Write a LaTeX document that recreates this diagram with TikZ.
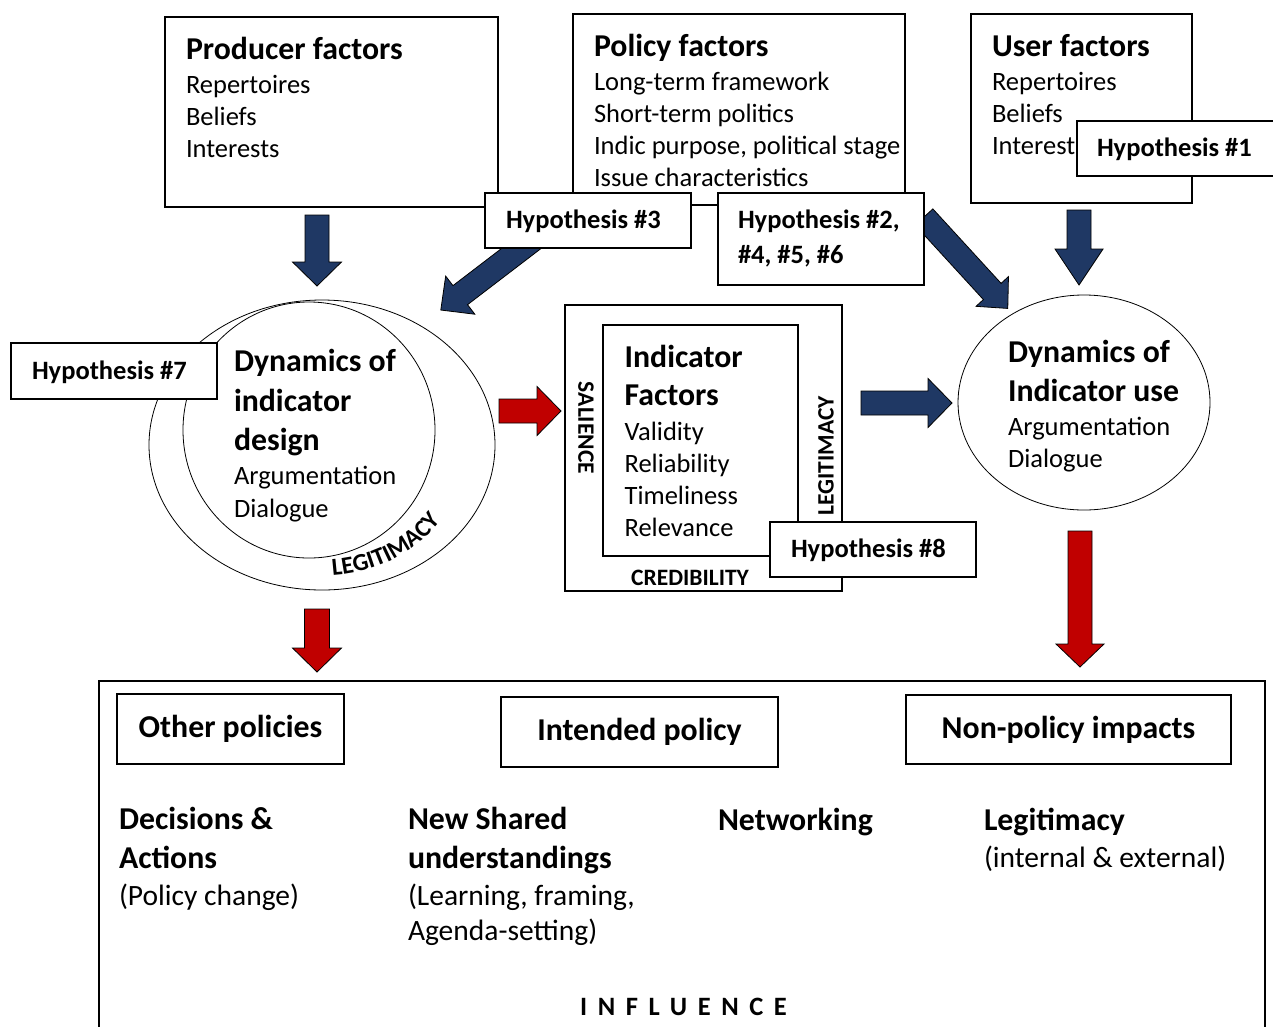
\documentclass[tikz,border=0pt]{standalone}
\usepackage{fontspec}
\setmainfont{Carlito}
\usetikzlibrary{calc,shapes.geometric,decorations.text}
\definecolor{navy}{RGB}{31,56,100}
\definecolor{darkred}{RGB}{192,0,0}
\newcommand{\fontreg}{\fontsize{26.5}{30}\selectfont}
\newcommand{\fontregb}{\fontsize{29.5}{33}\selectfont}
\newcommand{\fonthd}{\fontsize{31.8}{36}\selectfont\bfseries}
\newcommand{\fonthyp}{\fontsize{26.5}{30}\selectfont\bfseries}
\newcommand{\fontsm}{\fontsize{23.5}{25}\selectfont\bfseries}
\newcommand{\fontsmc}{\fontsize{24.5}{26}\selectfont\bfseries}
% #1 style, #2 x, #3 y, #4 angle, #5 length, #6 shaft half width, #7 head half width, #8 head length
\newcommand{\fatarrow}[8]{%
  \begin{scope}[shift={(#2,#3)},rotate=#4]
    \draw[#1] (0,-#6) -- (#5-#8,-#6) -- (#5-#8,-#7) -- (#5,0) -- (#5-#8,#7) -- (#5-#8,#6) -- (0,#6) -- cycle;
  \end{scope}}
\begin{document}
\begin{tikzpicture}[x=1pt,y=-1pt,
  box/.style={draw, line width=1.5pt, fill=white, rectangle, inner sep=0pt, outer sep=0pt},
  hypbox/.style={draw, line width=1.2pt, fill=white, rectangle, inner sep=0pt, outer sep=0pt, minimum width=206pt, minimum height=55pt},
  ln/.style={anchor=base west, inner sep=0pt, outer sep=0pt, font=\fontreg},
  lnb/.style={anchor=base west, inner sep=0pt, outer sep=0pt, font=\fontregb},
  hd/.style={anchor=base west, inner sep=0pt, outer sep=0pt, font=\fonthd},
  hyptext/.style={anchor=west, inner sep=0pt, outer sep=0pt, font=\fonthyp},
  hyplin/.style={anchor=base west, inner sep=0pt, outer sep=0pt, font=\fonthyp},
  smlab/.style={inner sep=0pt, outer sep=0pt, font=\fontsm},
  ell/.style={draw, ellipse, line width=0.8pt, inner sep=0pt, outer sep=0pt},
  bluearrow/.style={fill=navy, draw=black, line width=0.8pt, line join=miter},
  redarrow/.style={fill=darkred, draw=black, line width=0.8pt, line join=miter},
  impbox/.style={draw, line width=2pt, rectangle, inner sep=0pt, outer sep=0pt, font=\fonthd}]
\fill[white] (0,0) rectangle (1273,1026);
\useasboundingbox (0,0) rectangle (1273,1026);

% top factor boxes
\node[box, minimum width=333pt, minimum height=190pt] (producer) at (331.5,112) {};
\node[hd] (prodt) at (186,59) {Producer factors};
\node[ln] (prod1) at (186,93) {Repertoires};
\node[ln] (prod2) at (186,125) {Beliefs};
\node[ln] (prod3) at (186,157) {Interests};

\node[box, minimum width=332pt, minimum height=191pt] (policy) at (739,109.5) {};
\node[hd] (polt) at (594,56) {Policy factors};
\node[ln] (pol1) at (594,90) {Long-term framework};
\node[ln] (pol2) at (594,122) {Short-term politics};
\node[ln] (pol3) at (594,154) {Indic purpose, political stage};
\node[ln] (pol4) at (594,186) {Issue characteristics};

\node[box, minimum width=221pt, minimum height=189pt] (user) at (1081.5,108.5) {};
\node[hd] (usert) at (992,56) {User factors};
\node[ln] (user1) at (992,90) {Repertoires};
\node[ln] (user2) at (992,122) {Beliefs};
\node[ln] (user3) at (992,154) {Interest};

% blue arrows from the top
\fatarrow{bluearrow}{317}{215}{-90}{71}{12}{24.5}{24}
\fatarrow{bluearrow}{1079}{210}{-90}{75}{12}{24}{36}
\fatarrow{bluearrow}{535}{238}{-142.6}{118.6}{12}{24}{24.5}
\fatarrow{bluearrow}{924}{217}{-47.5}{124}{12}{22}{23}

% hypothesis boxes at the top
\node[hypbox] (h3) at (588,220.5) {};
\node[hyptext] (h3t) at ($(h3.west)+(21,1)$) {Hypothesis \#3};
\node[hypbox, minimum height=92pt] (h2) at (821,239) {};
\node[hyplin] (h2a) at (738,228.3) {Hypothesis \#2,};
\node[hyplin] (h2b) at (738,263.3) {\#4, \#5, \#6};
\node[hypbox, minimum width=203pt] (h1) at (1178.5,148.5) {};
\node[hyptext] (h1t) at ($(h1.west)+(20,1)$) {Hypothesis \#1};

% left: dynamics of indicator design
\node[ell, minimum width=346pt, minimum height=290pt] (outerL) at (322,445) {};
\node[ell, minimum width=252pt, minimum height=256pt] (innerL) at (309,430) {};
\node[hypbox, minimum height=56pt] (h7) at (114,371) {};
\node[hyptext] (h7t) at ($(h7.west)+(21,1)$) {Hypothesis \#7};
\node[hd] (dl1) at (234,371.7) {Dynamics of};
\node[hd] (dl2) at (234,411.7) {indicator};
\node[hd] (dl3) at (234,450) {design};
\node[ln] (dl4) at (234,484) {Argumentation};
\node[ln] (dl5) at (234,517.3) {Dialogue};
\path[decorate, decoration={text along path, text align=center,
   text={|\fontsmc|LEGITIMACY}}]
  ($(322,445)+(-100:146pt and 131pt)$) arc[start angle=-100, end angle=-20, x radius=146pt, y radius=131pt];

% middle: indicator factors
\node[box, line width=2.5pt, minimum width=277pt, minimum height=286pt] (credbox) at (703.5,448) {};
\node[box, minimum width=195pt, minimum height=231pt] (indbox) at (700.5,440.5) {};
\node[hd] (if1) at (624.6,367.3) {Indicator};
\node[hd] (if2) at (624.6,405.7) {Factors};
\node[ln] (if3) at (624.6,440) {Validity};
\node[ln] (if4) at (624.6,472.3) {Reliability};
\node[ln] (if5) at (624.6,504.3) {Timeliness};
\node[ln] (if6) at (624.6,536.7) {Relevance};
\node[smlab, rotate=-90] (sal) at (586,428) {SALIENCE};
\node[smlab, rotate=90] (legm) at (826,456) {LEGITIMACY};
\node[smlab, anchor=base] (cred) at (690,585.5) {CREDIBILITY};
\node[hypbox] (h8) at (873,549.5) {};
\node[hyptext] (h8t) at ($(h8.west)+(21,1)$) {Hypothesis \#8};

% right: dynamics of indicator use
\node[ell, minimum width=252pt, minimum height=215pt] (useL) at (1084,402.5) {};
\node[hd] (du1) at (1008,362) {Dynamics of};
\node[hd] (du2) at (1008,401) {Indicator use};
\node[ln] (du3) at (1008,435) {Argumentation};
\node[ln] (du4) at (1008,467) {Dialogue};

% horizontal arrows
\fatarrow{redarrow}{499}{411}{0}{62}{12}{24.5}{24}
\fatarrow{bluearrow}{861}{403}{0}{91}{12}{24.5}{24}

% red arrows down
\fatarrow{redarrow}{317}{609}{-90}{63}{12.5}{24.5}{24}
\fatarrow{redarrow}{1080}{531}{-90}{136}{12}{24}{23}

% influence box
\coordinate (infbl) at (99,1040);
\coordinate (inftl) at (99,681);
\coordinate (inftr) at (1265,681);
\coordinate (infbr) at (1265,1040);
\draw[line width=1.5pt] (infbl) -- (inftl) -- (inftr) -- (infbr);
\node[impbox, minimum width=227pt, minimum height=70pt] (other) at (230.5,729) {Other policies};
\node[impbox, minimum width=277pt, minimum height=70pt] (intended) at (639.5,732) {Intended policy};
\node[impbox, minimum width=325pt, minimum height=69pt] (nonpol) at (1068.5,729.5) {Non-policy impacts};

\node[hd] (b1a) at (119,829.3) {Decisions \&};
\node[hd] (b1b) at (119,868.3) {Actions};
\node[lnb] (b1c) at (119,905) {(Policy change)};
\node[hd] (b2a) at (408,829.3) {New Shared};
\node[hd] (b2b) at (408,868.3) {understandings};
\node[lnb] (b2c) at (408,905) {(Learning, framing,};
\node[lnb] (b2d) at (408,940.7) {Agenda-setting)};
\node[hd] (b3a) at (718,830) {Networking};
\node[hd] (b4a) at (984,830) {Legitimacy};
\node[lnb] (b4b) at (984,867.5) {(internal \& external)};
\node[anchor=base west, inner sep=0pt, font={\fontsize{26.5}{30}\selectfont\bfseries\addfontfeature{LetterSpace=40}}] (infl) at (580,1015) {INFLUENCE};
\end{tikzpicture}
\end{document}
